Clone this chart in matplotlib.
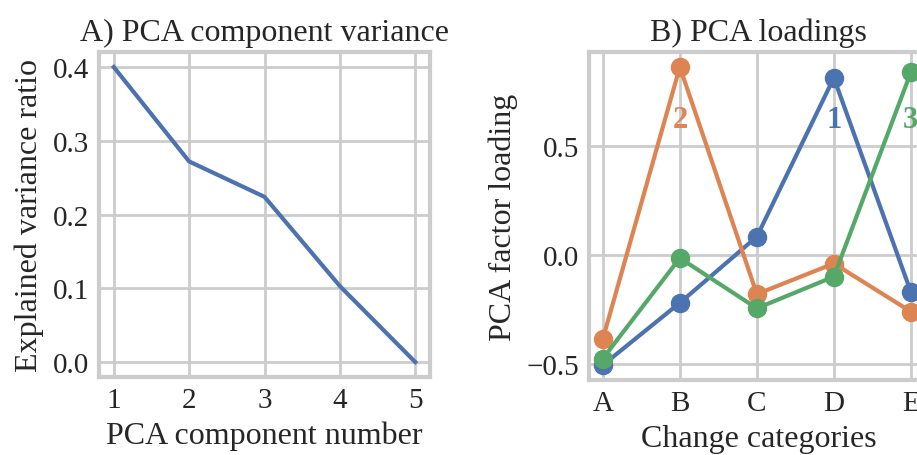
import matplotlib
matplotlib.use("Agg")
import matplotlib.pyplot as plt

# Data
components = [1, 2, 3, 4, 5]
explained_variance = [0.400, 0.272, 0.224, 0.103, 0.0]

categories = ["A", "B", "C", "D", "E"]
loading_1 = [-0.505, -0.22, 0.083, 0.81, -0.17]
loading_2 = [-0.385, 0.86, -0.18, -0.04, -0.26]
loading_3 = [-0.475, -0.015, -0.245, -0.10, 0.835]
label_names = ["1", "2", "3"]
label_x = [3, 1, 4]

blue, orange, green = "#4C72B0", "#DD8452", "#55A868"
grid_c = "#cccccc"
txt_c = "#262626"

plt.rcParams["font.family"] = ["Liberation Serif", "DejaVu Serif"]
plt.rcParams["axes.unicode_minus"] = True

fig = plt.figure(figsize=(9.17, 4.56), dpi=100)
W, H = 917, 456
ax1 = fig.add_axes([98.7 / W, 1 - 377.8 / H, 331.6 / W, 324.5 / H])
ax2 = fig.add_axes([589 / W, 1 - 381 / H, 338.8 / W, 328 / H])

TICK = 21
LAB = 23

def style(ax):
    ax.set_facecolor("white")
    ax.grid(True, color=grid_c, linewidth=2.0)
    ax.set_axisbelow(True)
    for s in ax.spines.values():
        s.set_color(grid_c)
        s.set_linewidth(3.0)
    ax.tick_params(length=0, labelsize=TICK, pad=7, colors=txt_c)

style(ax1)
ax1.plot(components, explained_variance, color=blue, linewidth=3.0)
ax1.set_xticks(components)
ax1.set_yticks([0.0, 0.1, 0.2, 0.3, 0.4])
ax1.set_title("A) PCA component variance", fontsize=LAB, color=txt_c, pad=9)
ax1.set_xlabel("PCA component number", fontsize=LAB, color=txt_c, labelpad=6)
ax1.set_ylabel("Explained variance ratio", fontsize=LAB, color=txt_c, labelpad=6)

style(ax2)
x = list(range(len(categories)))
ax2.plot(x, loading_1, color=blue, linewidth=3.0, marker="o", markersize=13)
ax2.plot(x, loading_2, color=orange, linewidth=3.0, marker="o", markersize=13)
ax2.plot(x, loading_3, color=green, linewidth=3.0, marker="o", markersize=13)
for name, lx, c in zip(label_names, label_x, [blue, orange, green]):
    ax2.text(lx, 0.62, name, color=c, fontsize=22, fontweight="bold",
             ha="center", va="center")
ax2.set_xticks(x)
ax2.set_xticklabels(categories)
ax2.set_yticks([-0.5, 0.0, 0.5])
ax2.set_xlim(-0.18, 4.22)
ax2.set_title("B) PCA loadings", fontsize=LAB, color=txt_c, pad=9)
ax2.set_xlabel("Change categories", fontsize=LAB, color=txt_c, labelpad=6)
ax2.set_ylabel("PCA factor loading", fontsize=LAB, color=txt_c, labelpad=6)

fig.savefig("out.png", dpi=100)
